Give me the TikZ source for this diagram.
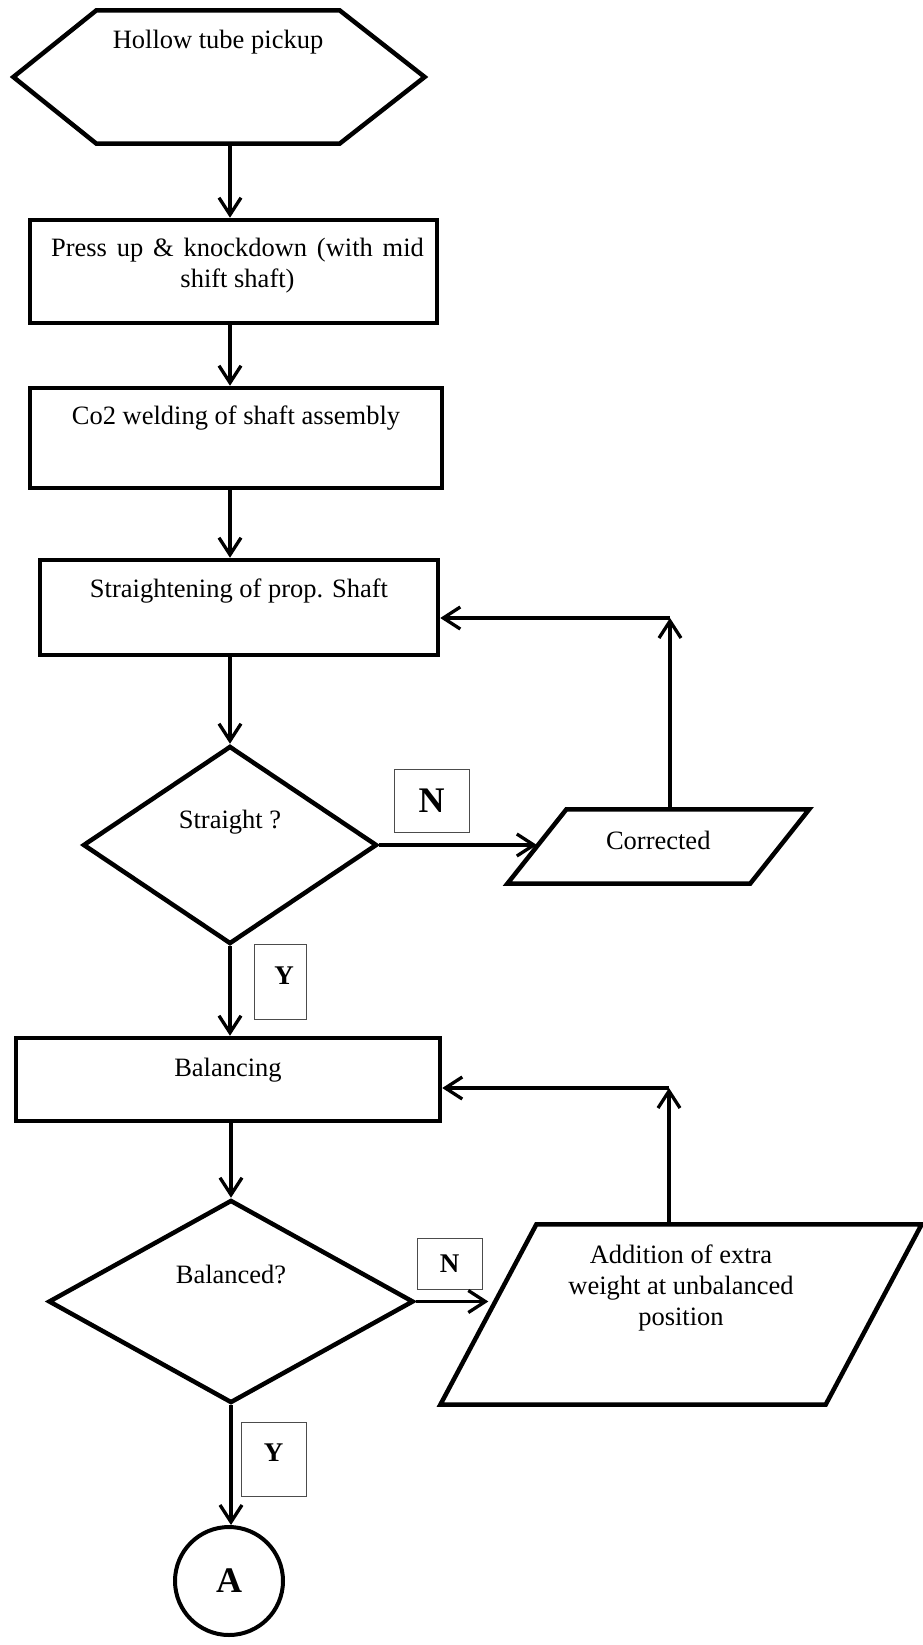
\documentclass[tikz,border=0pt]{standalone}
\usepackage{fontspec}
\setmainfont{Liberation Serif}
\usetikzlibrary{arrows.meta,shapes.geometric}

\begin{document}
\begin{tikzpicture}[x=1pt,y=-1pt,line width=3.3pt,
    >={Straight Barb[length=17pt,width=22pt]},
    txt/.style={font=\fontsize{26.5}{31}\selectfont,align=center,inner sep=0pt},
    box/.style={draw,line width=4.5pt,inner sep=0pt,rectangle},
    decide/.style={draw,line width=4.5pt,inner sep=0pt,diamond},
    outline/.style={line width=4.5pt,line join=miter},
    yn/.style={draw=black!70,line width=1pt,inner sep=0pt,rectangle,
      font=\bfseries\fontsize{27}{30}\selectfont}]
  \useasboundingbox (0,0) rectangle (922,1645);
  \coordinate (spine) at (230,0);
  \node[inner sep=0pt,minimum width=240pt,minimum height=130pt,
    label={[txt,anchor=north,yshift=-18pt]north:Hollow tube pickup}]
    (pick) at (218,77) {};
  \draw[outline](pick.north west)--(pick.north east)
    --([xshift=85pt]pick.east)--(pick.south east)--(pick.south west)
    --([xshift=-83pt]pick.west)--cycle;
  \node[box,minimum width=407pt,minimum height=103pt,
    label={[txt,anchor=north,yshift=-19pt,xshift=4pt]north:{\spaceskip=9.8pt\relax Press up \& knockdown (with mid}\\shift shaft)}]
    (press) at (233.5,271.5) {};
  \node[box,minimum width=412pt,minimum height=100pt,
    label={[txt,anchor=north,yshift=-18pt]north:Co2 welding of shaft assembly}]
    (weld) at (236,438) {};
  \node[box,minimum width=398pt,minimum height=95pt,
    label={[txt,anchor=north,yshift=-19pt]north:Straightening of prop. Shaft}]
    (strt) at (239,607.5) {};
  \node[decide,minimum width=294pt,minimum height=198pt,
    label={[txt,anchor=north,yshift=-65pt]north:Straight ?}]
    (qstr) at (230,845) {};
  \node[inner sep=0pt,minimum width=239.5pt,minimum height=71pt,
    label={[txt,anchor=north,yshift=-20pt]north:Corrected}]
    (corr) at (658.25,846.5) {};
  \draw[outline]([xshift=-29.5pt]corr.south west)--([xshift=-29.5pt]corr.south east)
    --([xshift=29.5pt]corr.north east)--([xshift=29.5pt]corr.north west)--cycle;
  \node[yn,minimum width=75pt,minimum height=63pt,
    font=\bfseries\fontsize{36}{40}\selectfont] (nstr) at (431.5,800.5) {N};
  \node[yn,minimum width=52pt,minimum height=75pt,
    label={[anchor=north,yshift=-18pt,xshift=4pt,
      font=\bfseries\fontsize{27}{30}\selectfont]north:Y}]
    (ystr) at (280,981.5) {};
  \node[box,minimum width=424pt,minimum height=83pt,
    label={[txt,anchor=north,yshift=-21pt]north:Balancing}]
    (bal) at (228,1079.5) {};
  \node[decide,minimum width=365pt,minimum height=203pt,
    label={[txt,anchor=north,yshift=-66pt]north:Balanced?}]
    (qbal) at (231,1301.5) {};
  \node[inner sep=0pt,minimum width=382pt,minimum height=177pt,
    label={[txt,anchor=north,yshift=-19pt]north:Addition of extra\\weight at unbalanced\\position}]
    (addw) at (681,1314.5) {};
  \draw[outline]([xshift=-48pt]addw.south west)--([xshift=-48pt]addw.south east)
    --([xshift=48pt]addw.north east)--([xshift=48pt]addw.north west)--cycle;
  \node[yn,minimum width=65pt,minimum height=51pt] (nbal) at (449.5,1263.5) {N};
  \node[yn,minimum width=65pt,minimum height=74pt,
    label={[anchor=north,yshift=-17pt,
      font=\bfseries\fontsize{27}{30}\selectfont]north:Y}]
    (ybal) at (273.5,1459) {};
  \node[draw,circle,line width=4pt,inner sep=0pt,minimum size=108pt,
    font=\bfseries\fontsize{36}{40}\selectfont] (endA) at (229,1581) {A};
  \coordinate (c1) at (670,618);
  \coordinate (c2) at (669,1088);
  \draw[->](pick.south -| spine)--(press.north -| spine);
  \draw[->](press.south -| spine)--(weld.north -| spine);
  \draw[->](weld.south -| spine)--(strt.north -| spine);
  \draw[->](strt.south -| spine)--(qstr.north);
  \draw[->](qstr.south)--(bal.north -| qstr.south);
  \draw[->](qstr.east)--(qstr.east -| corr.west);
  \draw[->](corr.north -| c1)--(c1);
  \draw[->](c1)--(c1 -| strt.east);
  \draw[->](bal.south -| qbal.north)--(qbal.north);
  \draw[->](qbal.east)--(qbal.east -| addw.west);
  \draw[->](addw.north -| c2)--(c2);
  \draw[->](c2)--(c2 -| bal.east);
  \draw[->](qbal.south)--(endA.north -| qbal.south);
\end{tikzpicture}
\end{document}
